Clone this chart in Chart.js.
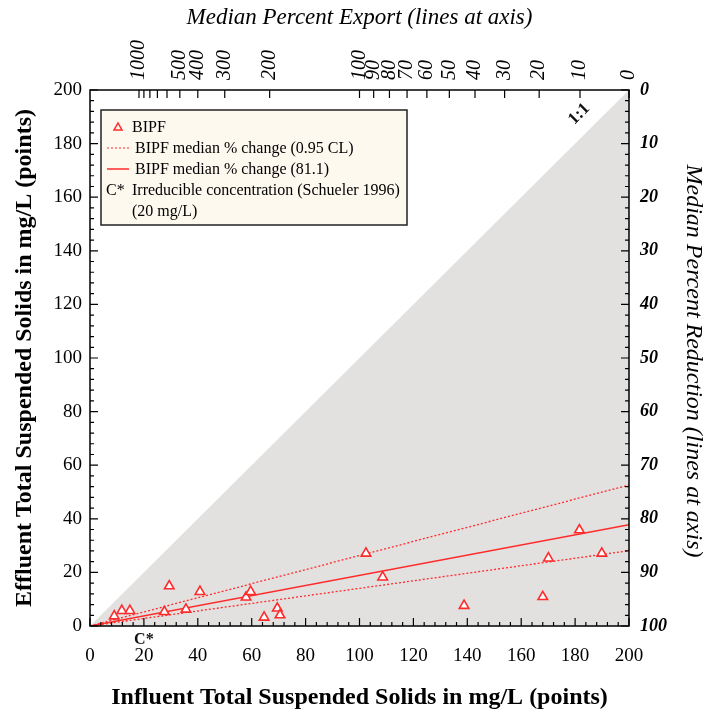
<!DOCTYPE html>
<html lang="en">
<head>
<meta charset="UTF-8" />
<title>Influent vs Effluent TSS</title>
<script src="https://cdn.jsdelivr.net/npm/chart.js"></script>
<style>
  body { margin: 0; background: #fff; }
  #wrap { width: 711px; height: 712px; }
</style>
</head>
<body>
<div id="wrap"><canvas id="tss" width="711" height="712"></canvas></div>
<script>
  // BIPF observations (mg/L)
  const influent = [9, 11.8, 14.8, 27.6, 29.4, 35.6, 40.8, 57.9, 59.6, 64.6, 69.5, 70.5, 102.4, 108.6, 138.8, 168, 170.1, 181.6, 189.9];
  const effluent = [3.7, 5.7, 5.7, 5.3, 14.9, 6.2, 12.8, 10.7, 12.8, 3.2, 6.6, 4.1, 27.1, 18.2, 7.6, 10.9, 25.3, 35.8, 27.1];

  // median % change lines, origin to right edge
  const lineX = [0, 200];
  const medianY = [0, 37.8];
  const upperCLY = [0, 52.6];
  const lowerCLY = [0, 28.1];

  // 1:1 line (edge of grey area)
  const oneX = [0, 200];
  const oneY = [0, 200];

  // axes
  const axisTicks = [0, 20, 40, 60, 80, 100, 120, 140, 160, 180, 200];
  const exportTicks = [1000, 500, 400, 300, 200, 100, 90, 80, 70, 60, 50, 40, 30, 20, 10, 0];
  const exportMinor = [900, 800, 700, 600];
  const reductionTicks = [0, 10, 20, 30, 40, 50, 60, 70, 80, 90, 100];
  const cStar = 20;

  const legendLabels = [
    'BIPF',
    'BIPF median % change (0.95 CL)',
    'BIPF median % change (81.1)',
    'Irreducible concentration (Schueler 1996)',
    '(20 mg/L)'
  ];

  const RED = '#ff2a2a';
  const GREY = '#e2e1e0';
  const SERIF = '"Liberation Serif", "DejaVu Serif", serif';

  // export % -> influent where line hits the top edge (y = 200)
  const exportPos = p => 200 / (1 + p / 100);
  // reduction % -> effluent on the right edge (x = 200)
  const reductionPos = r => 200 * (1 - r / 100);

  const pts = (xs, ys) => xs.map((x, i) => ({ x: x, y: ys[i] }));

  const extras = {
    id: 'extras',
    afterDatasetsDraw(chart) {
      const ctx = chart.ctx;
      const a = chart.chartArea;
      const sx = chart.scales.x, sy = chart.scales.y;
      ctx.save();

      // tick marks inside the frame
      ctx.strokeStyle = '#000';
      ctx.lineWidth = 1.2;
      ctx.beginPath();
      for (let v = 0; v <= 200; v += 4) {
        const len = v % 20 === 0 ? 8 : 4;
        const px = sx.getPixelForValue(v);
        ctx.moveTo(px, a.bottom); ctx.lineTo(px, a.bottom - len);
        const py = sy.getPixelForValue(v);
        ctx.moveTo(a.left, py); ctx.lineTo(a.left + len, py);
        ctx.moveTo(a.right, py); ctx.lineTo(a.right - len, py);
      }
      exportTicks.concat(exportMinor).forEach(p => {
        const px = sx.getPixelForValue(exportPos(p));
        ctx.moveTo(px, a.top); ctx.lineTo(px, a.top + 8);
      });
      ctx.stroke();

      // frame
      ctx.lineWidth = 1.5;
      ctx.strokeRect(a.left, a.top, a.right - a.left, a.bottom - a.top);

      // 1:1 label
      ctx.fillStyle = '#111';
      ctx.font = 'bold 17px ' + SERIF;
      ctx.textAlign = 'center';
      ctx.textBaseline = 'middle';
      ctx.translate(sx.getPixelForValue(181.5), sy.getPixelForValue(191));
      ctx.rotate(-Math.PI / 4);
      ctx.fillText('1:1', 0, 0);
      ctx.setTransform(1, 0, 0, 1, 0, 0);

      // C* under x axis
      ctx.font = 'bold 16px ' + SERIF;
      ctx.fillText('C*', sx.getPixelForValue(cStar), a.bottom + 14);

      // legend box
      const bx = 101, by = 110, bw = 306, bh = 115;
      ctx.fillStyle = '#fdf9ef';
      ctx.fillRect(bx, by, bw, bh);
      ctx.strokeStyle = '#222';
      ctx.lineWidth = 1.5;
      ctx.strokeRect(bx, by, bw, bh);

      ctx.font = '16px ' + SERIF;
      ctx.textAlign = 'left';
      ctx.fillStyle = '#000';
      const rows = [127, 148, 169, 190, 211];
      // triangle marker
      ctx.strokeStyle = RED;
      ctx.lineWidth = 1.5;
      ctx.beginPath();
      ctx.moveTo(118, rows[0] - 4); ctx.lineTo(122, rows[0] + 3); ctx.lineTo(114, rows[0] + 3); ctx.closePath();
      ctx.stroke();
      ctx.fillText(legendLabels[0], 132, rows[0] + 1);
      // dotted
      ctx.setLineDash([2, 2]);
      ctx.lineWidth = 1.2;
      ctx.beginPath(); ctx.moveTo(107, rows[1]); ctx.lineTo(129, rows[1]); ctx.stroke();
      ctx.setLineDash([]);
      ctx.fillText(legendLabels[1], 135, rows[1] + 1);
      // solid
      ctx.lineWidth = 1.5;
      ctx.beginPath(); ctx.moveTo(107, rows[2]); ctx.lineTo(129, rows[2]); ctx.stroke();
      ctx.fillText(legendLabels[2], 135, rows[2] + 1);
      ctx.fillText('C*', 106, rows[3] + 1);
      ctx.fillText(legendLabels[3], 132, rows[3] + 1);
      ctx.fillText(legendLabels[4], 132, rows[4] + 1);

      // right axis title
      ctx.font = 'italic 24px ' + SERIF;
      ctx.textAlign = 'center';
      ctx.translate(693, 361);
      ctx.rotate(Math.PI / 2);
      ctx.fillText('Median Percent Reduction (lines at axis)', 0, 0);
      ctx.restore();
    }
  };

  const ctx = document.getElementById('tss').getContext('2d');
  new Chart(ctx, {
    type: 'scatter',
    data: {
      datasets: [
        {
          label: 'grey',
          data: pts(oneX, oneY),
          showLine: true,
          fill: 'origin',
          backgroundColor: GREY,
          borderWidth: 0,
          pointRadius: 0,
          order: 10
        },
        {
          label: 'BIPF median % change (0.95 CL) upper',
          data: pts(lineX, upperCLY),
          showLine: true,
          borderColor: RED,
          borderWidth: 1.3,
          borderDash: [2, 2],
          pointRadius: 0,
          order: 5
        },
        {
          label: 'BIPF median % change (0.95 CL) lower',
          data: pts(lineX, lowerCLY),
          showLine: true,
          borderColor: RED,
          borderWidth: 1.3,
          borderDash: [2, 2],
          pointRadius: 0,
          order: 5
        },
        {
          label: 'BIPF median % change (81.1)',
          data: pts(lineX, medianY),
          showLine: true,
          borderColor: RED,
          borderWidth: 1.5,
          pointRadius: 0,
          order: 5
        },
        {
          label: 'BIPF',
          data: pts(influent, effluent),
          pointStyle: 'triangle',
          pointRadius: 5.5,
          borderColor: RED,
          borderWidth: 1.6,
          backgroundColor: '#fff',
          order: 1
        }
      ]
    },
    options: {
      responsive: false,
      animation: false,
      layout: { padding: 0 },
      plugins: {
        legend: { display: false },
        tooltip: { enabled: false }
      },
      scales: {
        x: {
          type: 'linear', position: 'bottom', min: 0, max: 200,
          afterBuildTicks: s => { s.ticks = axisTicks.map(v => ({ value: v })); },
          afterFit: s => { s.height = 86; },
          grid: { display: false, drawTicks: false },
          border: { display: false },
          ticks: { padding: 19, color: '#000', font: { family: SERIF, size: 19 }, maxRotation: 0 },
          title: {
            display: true, text: 'Influent Total Suspended Solids in mg/L (points)',
            color: '#000', font: { family: SERIF, size: 24, weight: 'bold' }, padding: { top: 0, bottom: 0 }
          }
        },
        x2: {
          type: 'linear', position: 'top', min: 0, max: 200,
          afterBuildTicks: s => { s.ticks = exportTicks.map(p => ({ value: exportPos(p) })); },
          afterFit: s => { s.height = 90; },
          grid: { display: false, drawTicks: false },
          border: { display: false },
          ticks: {
            autoSkip: false, minRotation: 90, maxRotation: 90, padding: 10, labelOffset: 24, color: '#000',
            font: { family: SERIF, size: 20, style: 'italic' },
            callback: (v, i) => String(exportTicks[i])
          },
          title: {
            display: true, text: 'Median Percent Export (lines at axis)',
            color: '#000', font: { family: SERIF, size: 23, style: 'italic' }, padding: { top: 4, bottom: 0 }
          }
        },
        y: {
          type: 'linear', position: 'left', min: 0, max: 200,
          afterBuildTicks: s => { s.ticks = axisTicks.map(v => ({ value: v })); },
          afterFit: s => { s.width = 90; },
          grid: { display: false, drawTicks: false },
          border: { display: false },
          ticks: { padding: 8, color: '#000', font: { family: SERIF, size: 19 } },
          title: {
            display: true, text: 'Effluent Total Suspended Solids in mg/L (points)',
            color: '#000', font: { family: SERIF, size: 24, weight: 'bold' }, padding: { top: 10, bottom: 0 }
          }
        },
        y2: {
          type: 'linear', position: 'right', min: 0, max: 200,
          afterBuildTicks: s => { s.ticks = reductionTicks.map(r => ({ value: reductionPos(r) })); },
          afterFit: s => { s.width = 82; },
          grid: { display: false, drawTicks: false },
          border: { display: false },
          ticks: {
            autoSkip: false, padding: 11, color: '#000',
            font: { family: SERIF, size: 18, style: 'italic', weight: 'bold' },
            callback: (v, i) => String(reductionTicks[i])
          }
        }
      }
    },
    plugins: [extras]
  });
</script>
</body>
</html>
